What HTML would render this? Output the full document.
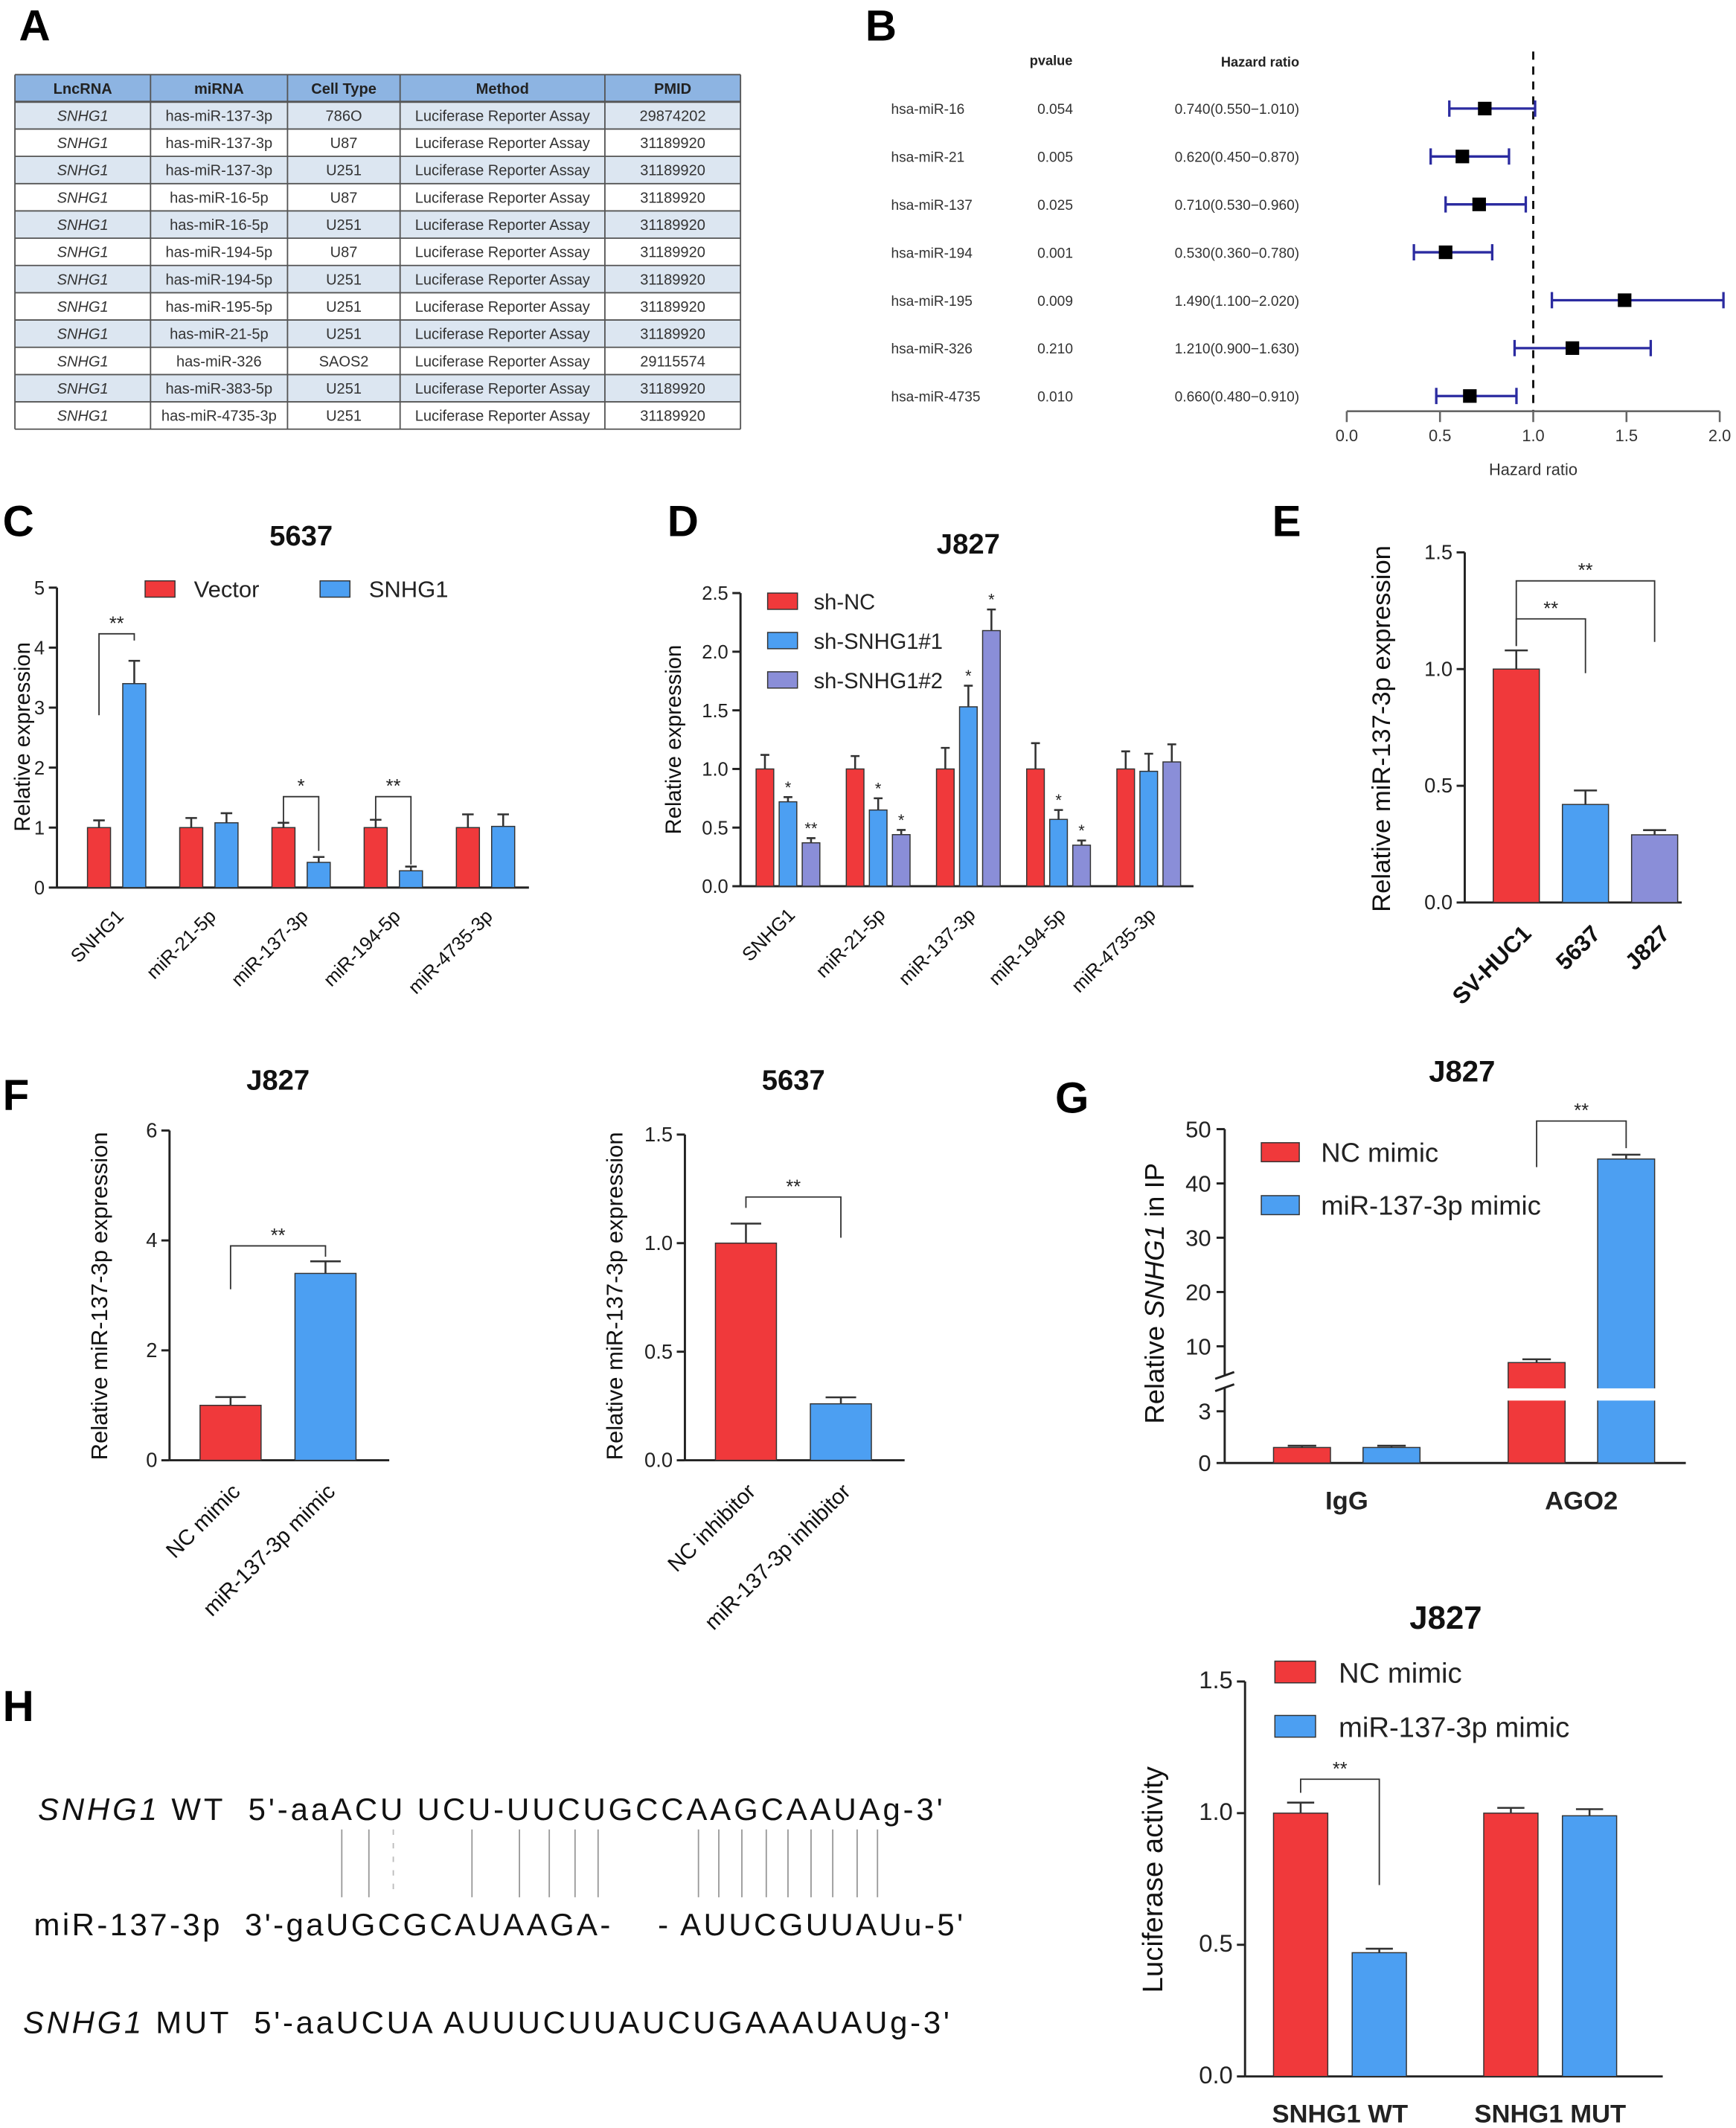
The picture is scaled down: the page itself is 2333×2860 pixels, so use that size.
<!DOCTYPE html>
<html><head><meta charset="utf-8"><style>
html,body{margin:0;padding:0;background:#fff}
svg{display:block;font-family:"Liberation Sans",Arial,sans-serif}
.pre{white-space:pre}
</style></head><body>
<svg id="fig" xmlns="http://www.w3.org/2000/svg" width="2333" height="2860" viewBox="0 0 1280 1568" preserveAspectRatio="none">
<rect x="0" y="0" width="1280" height="1568" fill="#fff"/>
<g font-weight="bold" font-size="32" fill="#000">
<text x="14" y="30">A</text>
<text x="638" y="30">B</text>
<text x="2" y="395">C</text>
<text x="492" y="395">D</text>
<text x="938" y="395">E</text>
<text x="2" y="818">F</text>
<text x="778" y="820">G</text>
<text x="2" y="1268">H</text>
</g>
<g font-size="23" fill="#111">
<text class="pre" x="28" y="1341" textLength="667" lengthAdjust="spacing"><tspan font-style="italic">SNHG1</tspan> WT  5'-aaACU UCU-UUCUGCCAAGCAAUAg-3'</text>
<text class="pre" x="25" y="1426" textLength="685" lengthAdjust="spacing">miR-137-3p  3'-gaUGCGCAUAAGA-    - AUUCGUUAUu-5'</text>
<text class="pre" x="17" y="1498" textLength="683" lengthAdjust="spacing"><tspan font-style="italic">SNHG1</tspan> MUT  5'-aaUCUA AUUUCUUAUCUGAAAUAUg-3'</text>
</g>
</svg>
<script>
// ---------- data ----------
const tblHeader=['LncRNA','miRNA','Cell Type','Method','PMID'];
const tblMirna=['has-miR-137-3p','has-miR-137-3p','has-miR-137-3p','has-miR-16-5p','has-miR-16-5p','has-miR-194-5p','has-miR-194-5p','has-miR-195-5p','has-miR-21-5p','has-miR-326','has-miR-383-5p','has-miR-4735-3p'];
const tblCell=['786O','U87','U251','U87','U251','U87','U251','U251','U251','SAOS2','U251','U251'];
const tblPmid=['29874202','31189920','31189920','31189920','31189920','31189920','31189920','31189920','31189920','29115574','31189920','31189920'];

const fpNames=['hsa-miR-16','hsa-miR-21','hsa-miR-137','hsa-miR-194','hsa-miR-195','hsa-miR-326','hsa-miR-4735'];
const fpPvals=['0.054','0.005','0.025','0.001','0.009','0.210','0.010'];
const fpHR=[0.74,0.62,0.71,0.53,1.49,1.21,0.66];
const fpLow=[0.55,0.45,0.53,0.36,1.10,0.90,0.48];
const fpHigh=[1.01,0.87,0.96,0.78,2.02,1.63,0.91];
const fpTicks=[0,0.5,1,1.5,2];

const cCats=['SNHG1','miR-21-5p','miR-137-3p','miR-194-5p','miR-4735-3p'];
const cVector=[1,1,1,1,1];
const cVectorErr=[0.12,0.16,0.08,0.13,0.22];
const cSNHG1=[3.4,1.08,0.42,0.28,1.02];
const cSNHG1Err=[0.38,0.16,0.09,0.07,0.2];
const cTicks=[0,1,2,3,4,5];

const dCats=['SNHG1','miR-21-5p','miR-137-3p','miR-194-5p','miR-4735-3p'];
const dNC=[1,1,1,1,1];
const dNCErr=[0.12,0.11,0.18,0.22,0.15];
const dSh1=[0.72,0.65,1.53,0.57,0.98];
const dSh1Err=[0.04,0.1,0.18,0.08,0.15];
const dSh2=[0.37,0.44,2.18,0.35,1.06];
const dSh2Err=[0.04,0.04,0.18,0.04,0.15];
const dTicks=[0,0.5,1,1.5,2,2.5];

const eCats=['SV-HUC1','5637','J827'];
const eVals=[1.0,0.42,0.29];
const eErr=[0.08,0.06,0.02];
const eTicks=[0,0.5,1,1.5];

const f1Cats=['NC mimic','miR-137-3p mimic'];
const f1Vals=[1.0,3.4];
const f1Err=[0.15,0.22];
const f1Ticks=[0,2,4,6];
const f2Cats=['NC inhibitor','miR-137-3p inhibitor'];
const f2Vals=[1.0,0.26];
const f2Err=[0.09,0.03];
const f2Ticks=[0,0.5,1,1.5];

const gCats=['IgG','AGO2'];
const gNC=[0.9,7.0];
const gNCErr=[0.1,0.6];
const gMimic=[0.9,44.5];
const gMimicErr=[0.1,0.8];
const gTicksLow=[0,3];
const gTicksHigh=[10,20,30,40,50];

const hCats=['SNHG1 WT','SNHG1 MUT'];
const hNC=[1.0,1.0];
const hNCErr=[0.04,0.02];
const hMimic=[0.47,0.99];
const hMimicErr=[0.015,0.025];
const hTicks=[0,0.5,1,1.5];

// ---------- helpers ----------
const NS='http://www.w3.org/2000/svg';
const svg=document.getElementById('fig');
const RED='#f0393b',BLUE='#4c9ff2',PURPLE='#8a8ed8';
function mk(tag,a,p){const e=document.createElementNS(NS,tag);for(const k in a)e.setAttribute(k,a[k]);(p||svg).appendChild(e);return e;}
function txt(s,x,y,a,p){const e=mk('text',Object.assign({x:x,y:y},a||{}),p);e.textContent=s;return e;}
function fmt(v,d){return d==null?String(v):v.toFixed(d);}

function yAxis(g,x,yf,ticks,dec,fs){
  const l=mk('line',{x1:x,x2:x,y1:yf(ticks[0]),y2:yf(ticks[ticks.length-1]),stroke:'#222','stroke-width':1.6},g);
  
  
  ticks.forEach(t=>{
    const tk=mk('line',{x1:x-6,x2:x,y1:yf(t),y2:yf(t),stroke:'#222','stroke-width':1.6},g);
    
    
    const lb=txt(fmt(t,dec),x-9,yf(t)+5,{'text-anchor':'end','font-size':fs||14,fill:'#222'},g);
    
    
  });
}
function xAxis(g,x1,x2,y){
  const l=mk('line',{x1:x1,x2:x2,y1:y,y2:y,stroke:'#222','stroke-width':1.6},g);
  
  
}
function bar(g,cx,w,y0,yv,ye,color,name){
  const r=mk('rect',{x:cx-w/2,y:Math.min(y0,yv),width:w,height:Math.abs(y0-yv),fill:color,stroke:'#333','stroke-width':0.8},g);
  
  
  const eb=mk('path',{d:`M${cx},${yv}V${ye}M${cx-w*0.25},${ye}H${cx+w*0.25}`,stroke:'#333','stroke-width':1.4,fill:'none'},g);
  
  
}
function xLabelRot(g,s,x,y,fs,bold){
  const t=txt(s,x,y,{'text-anchor':'end','font-size':fs,fill:'#111',transform:`rotate(-45 ${x} ${y})`,'font-weight':bold?'bold':'normal'},g);
  
  
}
function yTitle(g,s,x,y,fs){
  const t=txt(s,x,y,{'text-anchor':'middle','font-size':fs,fill:'#111',transform:`rotate(-90 ${x} ${y})`},g);
  
  
  return t;
}
function title(g,s,x,y,fs){
  const t=txt(s,x,y,{'text-anchor':'middle','font-size':fs||21,'font-weight':'bold',fill:'#111'},g);
  
  
}
function legend(g,color,s,x,y,w,h,fs,gap){
  const r=mk('rect',{x:x,y:y,width:w,height:h,fill:color,stroke:'#333','stroke-width':0.8},g);
  
  
  const t=txt(s,x+w+gap,y+h,{'font-size':fs,fill:'#222'},g);
  
  
}
function sig(g,x1,x2,y,d1,d2,s){
  const p=mk('path',{d:`M${x1},${y+d1}V${y}H${x2}V${y+d2}`,stroke:'#333','stroke-width':1,fill:'none'},g);
  
  
  const t=txt(s,(x1+x2)/2,y-3,{'text-anchor':'middle','font-size':14,fill:'#222'},g);
  
  
}
function star(g,x,y,s){
  const t=txt(s,x,y,{'text-anchor':'middle','font-size':12,fill:'#222'},g);
  
  
}

// ---------- Panel A: table ----------
(function(){
  const g=mk('g',{});
  
  
  const cols=[11,111,212,295,446,546];
  const top=55,hh=20,rh=20.1;
  const hdr=mk('rect',{x:11,y:top,width:535,height:hh,fill:'#8db4e2'},g);
  
  
  tblHeader.forEach((h,i)=>{
    const t=txt(h,(cols[i]+cols[i+1])/2,top+14,{'text-anchor':'middle','font-size':11,'font-weight':'bold',fill:'#222'},g);
    
    
  });
  tblMirna.forEach((m,r)=>{
    const y=top+hh+r*rh;
    const bg=mk('rect',{x:11,y:y,width:535,height:rh,fill:r%2===0?'#dce6f1':'#fff'},g);
    
    
    const vals=['SNHG1',m,tblCell[r],'Luciferase Reporter Assay',tblPmid[r]];
    vals.forEach((v,i)=>{
      const t=txt(v,(cols[i]+cols[i+1])/2,y+14,{'text-anchor':'middle','font-size':11,fill:'#333','font-style':i===0?'italic':'normal'},g);
      
      
    });
  });
  const bottom=top+hh+tblMirna.length*rh;
  for(let r=0;r<=tblMirna.length+1;r++){
    const y=r===0?top:top+hh+(r-1)*rh;
    const l=mk('line',{x1:11,x2:546,y1:y,y2:y,stroke:'#555','stroke-width':r===1?1.6:1},g);
    
    
  }
  cols.forEach(c=>{
    const l=mk('line',{x1:c,x2:c,y1:top,y2:bottom,stroke:'#555','stroke-width':1},g);
    
    
  });
})();

// ---------- Panel B: forest ----------
(function(){
  const g=mk('g',{});
  
  
  const xs=v=>993+v*137.5;
  const rowY=i=>80+i*35.3;
  const h1=txt('pvalue',775,48,{'text-anchor':'middle','font-size':10,'font-weight':'bold',fill:'#222'},g);
  
  
  const h2=txt('Hazard ratio',958,49,{'text-anchor':'end','font-size':10,'font-weight':'bold',fill:'#222'},g);
  
  
  const ref=mk('line',{x1:xs(1),x2:xs(1),y1:38,y2:303,stroke:'#111','stroke-width':1.6,'stroke-dasharray':'6,5'},g);
  
  
  fpNames.forEach((n,i)=>{
    const y=rowY(i);
    const a=txt(n,657,y+4,{'font-size':10.5,fill:'#333'},g);
    
    
    const b=txt(fpPvals[i],778,y+4,{'text-anchor':'middle','font-size':10.5,fill:'#333'},g);
    
    
    const c=txt(fpHR[i].toFixed(3)+'('+fpLow[i].toFixed(3)+'−'+fpHigh[i].toFixed(3)+')',958,y+4,{'text-anchor':'end','font-size':10.5,fill:'#333'},g);
    
    
    const ci=mk('path',{d:`M${xs(fpLow[i])},${y}H${xs(fpHigh[i])}M${xs(fpLow[i])},${y-6}V${y+6}M${xs(fpHigh[i])},${y-6}V${y+6}`,stroke:'#2b2ba0','stroke-width':1.8,fill:'none'},g);
    
    
    const pt=mk('rect',{x:xs(fpHR[i])-5,y:y-5,width:10,height:10,fill:'#000'},g);
    
    
  });
  const ax=mk('line',{x1:xs(0),x2:xs(2),y1:303,y2:303,stroke:'#666','stroke-width':1.4},g);
  
  
  fpTicks.forEach(t=>{
    const tk=mk('line',{x1:xs(t),x2:xs(t),y1:303,y2:311,stroke:'#666','stroke-width':1.4},g);
    
    
    const l=txt(t.toFixed(1),xs(t),325,{'text-anchor':'middle','font-size':12,fill:'#333'},g);
    
    
  });
  const xt=txt('Hazard ratio',xs(1),350,{'text-anchor':'middle','font-size':12,fill:'#333'},g);
  
  
})();

// ---------- Panel C ----------
(function(){
  const g=mk('g',{});
  
  
  const y0=654,k=44.2,yf=v=>y0-v*k,gx=i=>86+i*68;
  title(g,'5637',222,402);
  yAxis(g,42,yf,cTicks,null,14);
  xAxis(g,42,390,y0);
  yTitle(g,'Relative expression',22,543,16);
  cCats.forEach((c,i)=>{
    bar(g,gx(i)-13,17,y0,yf(cVector[i]),yf(cVector[i]+cVectorErr[i]),RED,'bar-vector');
    bar(g,gx(i)+13,17,y0,yf(cSNHG1[i]),yf(cSNHG1[i]+cSNHG1Err[i]),BLUE,'bar-snhg1');
    xLabelRot(g,c,gx(i)+6,y0+22,14,false);
  });
  sig(g,gx(0)-13,gx(0)+13,467,60,5,'**');
  sig(g,gx(2)-13,gx(2)+13,587,20,40,'*');
  sig(g,gx(3)-13,gx(3)+13,587,20,50,'**');
  legend(g,RED,'Vector',107,428,22,12,17,14);
  legend(g,BLUE,'SNHG1',236,428,22,12,17,14);
})();

// ---------- Panel D ----------
(function(){
  const g=mk('g',{});
  
  
  const y0=653,k=86.4,yf=v=>y0-v*k,gx=i=>581+i*66.5;
  title(g,'J827',714,408);
  yAxis(g,546,yf,dTicks,1,14);
  xAxis(g,546,880,y0);
  yTitle(g,'Relative expression',502,545,16);
  dCats.forEach((c,i)=>{
    bar(g,gx(i)-17,13,y0,yf(dNC[i]),yf(dNC[i]+dNCErr[i]),RED,'bar-sh-nc');
    bar(g,gx(i),13,y0,yf(dSh1[i]),yf(dSh1[i]+dSh1Err[i]),BLUE,'bar-sh-snhg1-1');
    bar(g,gx(i)+17,13,y0,yf(dSh2[i]),yf(dSh2[i]+dSh2Err[i]),PURPLE,'bar-sh-snhg1-2');
    xLabelRot(g,c,gx(i)+6,y0+22,14,false);
  });
  const s1=['*','*','*','*',''],s2=['**','*','*','*',''];
  dCats.forEach((c,i)=>{
    if(s1[i])star(g,gx(i),yf(dSh1[i]+dSh1Err[i])-3,s1[i]);
    if(s2[i])star(g,gx(i)+17,yf(dSh2[i]+dSh2Err[i])-3,s2[i]);
  });
  legend(g,RED,'sh-NC',566,437,22,12,16,12);
  legend(g,BLUE,'sh-SNHG1#1',566,466,22,12,16,12);
  legend(g,PURPLE,'sh-SNHG1#2',566,495,22,12,16,12);
})();

// ---------- Panel E ----------
(function(){
  const g=mk('g',{});
  
  
  const y0=665,k=172,yf=v=>y0-v*k,gx=i=>1118+i*51;
  yAxis(g,1080,yf,eTicks,1,15);
  xAxis(g,1080,1240,y0);
  yTitle(g,'Relative miR-137-3p expression',1025,537,19);
  const cols=[RED,BLUE,PURPLE];
  eCats.forEach((c,i)=>{
    bar(g,gx(i),34,y0,yf(eVals[i]),yf(eVals[i]+eErr[i]),cols[i],'bar-'+c.toLowerCase());
    xLabelRot(g,c,gx(i)+12,y0+24,17,true);
  });
  sig(g,gx(0),gx(1),456,20,40,'**');
  sig(g,gx(0),gx(2),428,48,45,'**');
})();

// ---------- Panel F ----------
function fChart(name,ax,tl,cats,vals,errs,ticks,dec,k,tx1){
  const g=mk('g',{});
  
  
  const y0=1076,yf=v=>y0-v*k,gx=i=>ax+45+i*70;
  title(g,tl,tx1,803);
  yAxis(g,ax,yf,ticks,dec,15);
  xAxis(g,ax,ax+162,y0);
  yTitle(g,'Relative miR-137-3p expression',ax-46,955,17);
  const cols=[RED,BLUE];
  cats.forEach((c,i)=>{
    bar(g,gx(i),45,y0,yf(vals[i]),yf(vals[i]+errs[i]),cols[i],'bar-'+(i?'treatment':'control'));
    xLabelRot(g,c,gx(i)+8,y0+24,16,false);
  });
  return {g:g,yf:yf,gx:gx};
}
(function(){
  const a=fChart('panel-f-left-chart',125,'J827',f1Cats,f1Vals,f1Err,f1Ticks,null,40.5,205);
  sig(a.g,a.gx(0),a.gx(1),918,32,8,'**');
  const b=fChart('panel-f-right-chart',505,'5637',f2Cats,f2Vals,f2Err,f2Ticks,1,160,585);
  sig(b.g,b.gx(0),b.gx(1),882,8,30,'**');
})();

// ---------- Panel G ----------
(function(){
  const g=mk('g',{});
  
  
  const y0=1078;
  const yf=v=>v<=3?y0-v*12.7:992-(v-10)*4;
  const gx=i=>993+i*173;
  title(g,'J827',1078,797,22);
  const l1=mk('line',{x1:903,x2:903,y1:yf(0),y2:1022,stroke:'#222','stroke-width':1.6},g);
  
  
  const l2=mk('line',{x1:903,x2:903,y1:1013,y2:yf(50),stroke:'#222','stroke-width':1.6},g);
  
  
  gTicksLow.concat(gTicksHigh).forEach(t=>{
    const tk=mk('line',{x1:897,x2:903,y1:yf(t),y2:yf(t),stroke:'#222','stroke-width':1.6},g);
    
    
    const lb=txt(String(t),893,yf(t)+6,{'text-anchor':'end','font-size':17,fill:'#222'},g);
    
    
  });
  const br=mk('path',{d:'M896,1016L910,1011M896,1025L910,1020',stroke:'#222','stroke-width':1.6,fill:'none'},g);
  
  
  xAxis(g,903,1243,y0);
  const yt=txt('',858,953,{'text-anchor':'middle','font-size':20,fill:'#111',transform:'rotate(-90 858 953)'},g);
  
  
  const s1=mk('tspan',{},yt);s1.textContent='Relative ';
  const s2=mk('tspan',{'font-style':'italic'},yt);s2.textContent='SNHG1';
  const s3=mk('tspan',{},yt);s3.textContent='  in IP';
  gCats.forEach((c,i)=>{
    bar(g,gx(i)-33,42,y0,yf(gNC[i]),yf(gNC[i]+gNCErr[i]),RED,'bar-nc-mimic');
    bar(g,gx(i)+33,42,y0,yf(gMimic[i]),yf(gMimic[i]+gMimicErr[i]),BLUE,'bar-mir-137-3p-mimic');
    const t=txt(c,gx(i),1112,{'text-anchor':'middle','font-size':19,'font-weight':'bold',fill:'#222'},g);
    
    
  });
  const gap=mk('rect',{x:gx(1)-60,y:1023,width:120,height:9,fill:'#fff'},g);
  
  
  sig(g,gx(1)-33,gx(1)+33,826,34,20,'**');
  legend(g,RED,'NC mimic',930,842,28,14,20,16);
  legend(g,BLUE,'miR-137-3p mimic',930,881,28,14,20,16);
})();

// ---------- Panel H chart ----------
(function(){
  const g=mk('g',{});
  
  
  const y0=1530,k=194,yf=v=>y0-v*k,gx=i=>988+i*155;
  title(g,'J827',1066,1200,24);
  yAxis(g,918,yf,hTicks,1,18);
  xAxis(g,918,1226,y0);
  yTitle(g,'Luciferase activity',857,1385,21);
  hCats.forEach((c,i)=>{
    bar(g,gx(i)-29,40,y0,yf(hNC[i]),yf(hNC[i]+hNCErr[i]),RED,'bar-nc-mimic');
    bar(g,gx(i)+29,40,y0,yf(hMimic[i]),yf(hMimic[i]+hMimicErr[i]),BLUE,'bar-mir-137-3p-mimic');
    const t=txt(c,gx(i),1564,{'text-anchor':'middle','font-size':19,'font-weight':'bold',fill:'#222'},g);
    
    
  });
  sig(g,gx(0)-29,gx(0)+29,1311,10,78,'**');
  legend(g,RED,'NC mimic',940,1224,30,16,21,17);
  legend(g,BLUE,'miR-137-3p mimic',940,1264,30,16,21,17);
})();

// ---------- Panel H pairing lines ----------
(function(){
  const g=mk('g',{});
  
  
  const xs=[252,272,348,383,405,424,441,515,530,547,565,581,598,614,632,647];
  xs.forEach(x=>{
    const l=mk('line',{x1:x,x2:x,y1:1348,y2:1398,stroke:'#999','stroke-width':1},g);
    
    
  });
  const d=mk('line',{x1:290,x2:290,y1:1348,y2:1398,stroke:'#bbb','stroke-width':1,'stroke-dasharray':'4,6'},g);
  
  
})();
</script>
</body></html>
